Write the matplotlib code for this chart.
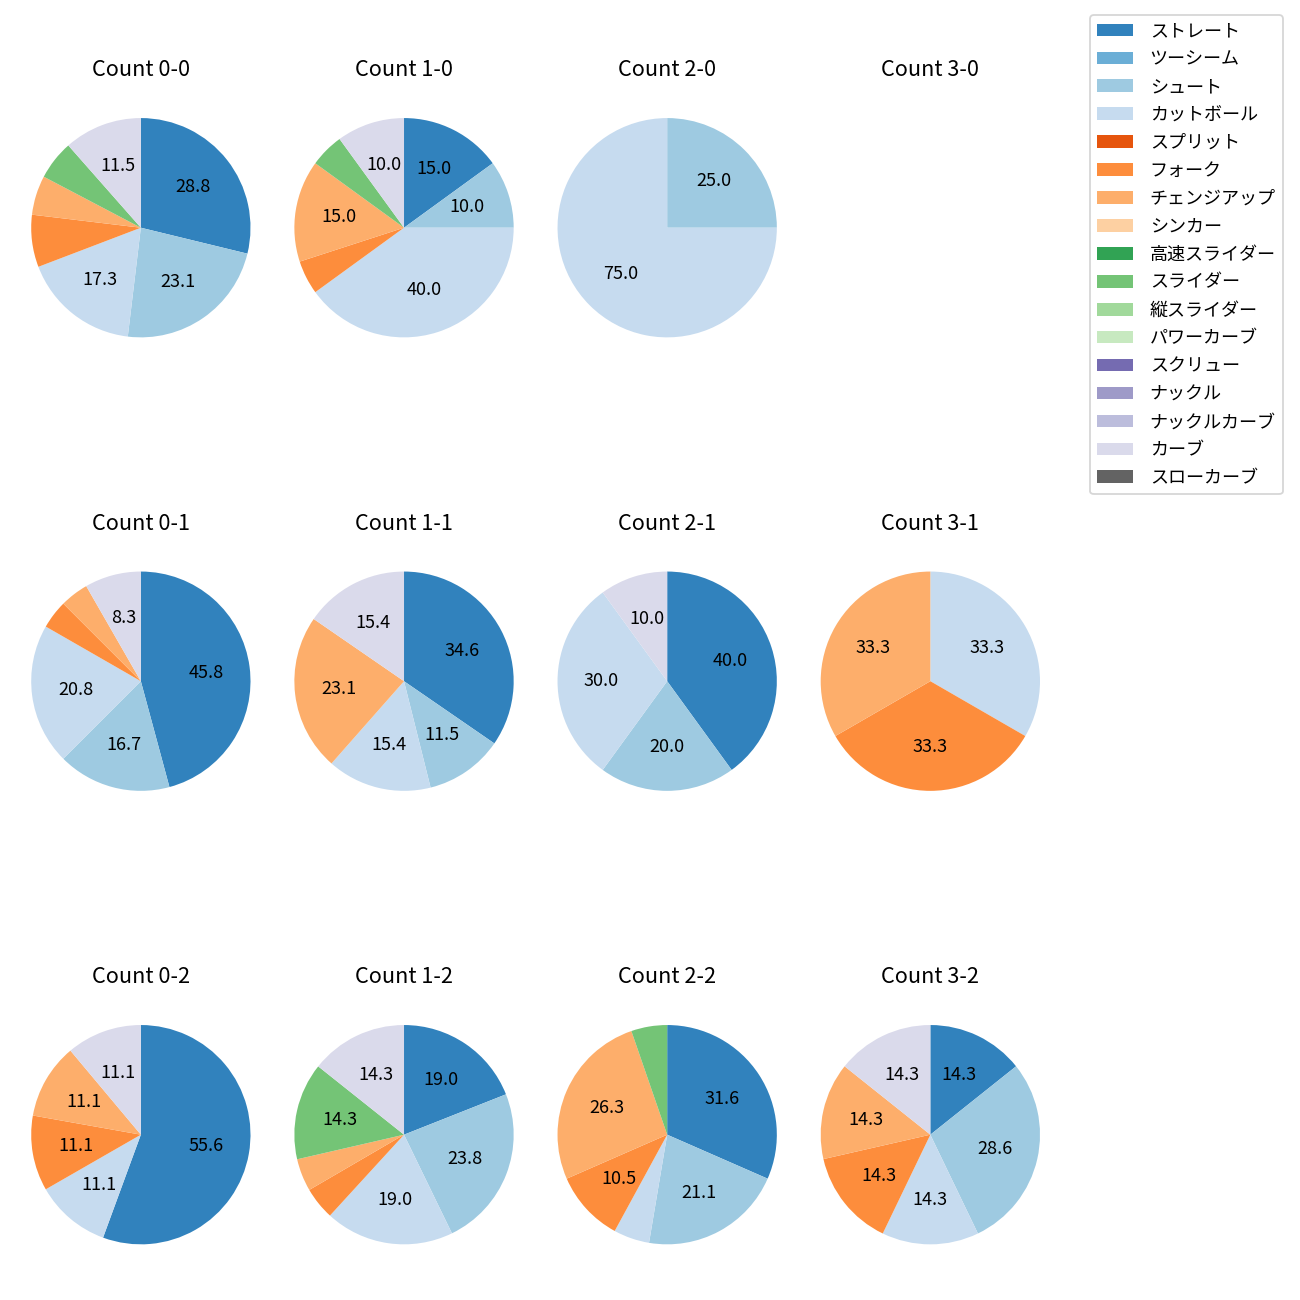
import numpy as np
import matplotlib
matplotlib.use("Agg")
import matplotlib.pyplot as plt
from matplotlib.patches import Patch

plt.rcParams['font.family'] = ['Noto Sans CJK JP', 'DejaVu Sans']

pitch_types = ["ストレート", "ツーシーム", "シュート", "カットボール", "スプリット", "フォーク",
               "チェンジアップ", "シンカー", "高速スライダー", "スライダー", "縦スライダー",
               "パワーカーブ", "スクリュー", "ナックル", "ナックルカーブ", "カーブ", "スローカーブ"]

# share (%) per pitch type, in the order of pitch_types
count_0_0 = [28.8, 0, 23.1, 17.3, 0, 7.7, 5.8, 0, 0, 5.8, 0, 0, 0, 0, 0, 11.5, 0]
count_1_0 = [15.0, 0, 10.0, 40.0, 0, 5.0, 15.0, 0, 0, 5.0, 0, 0, 0, 0, 0, 10.0, 0]
count_2_0 = [0, 0, 25.0, 75.0, 0, 0, 0, 0, 0, 0, 0, 0, 0, 0, 0, 0, 0]
count_3_0 = [0] * 17
count_0_1 = [45.8, 0, 16.7, 20.8, 0, 4.2, 4.2, 0, 0, 0, 0, 0, 0, 0, 0, 8.3, 0]
count_1_1 = [34.6, 0, 11.5, 15.4, 0, 0, 23.1, 0, 0, 0, 0, 0, 0, 0, 0, 15.4, 0]
count_2_1 = [40.0, 0, 20.0, 30.0, 0, 0, 0, 0, 0, 0, 0, 0, 0, 0, 0, 10.0, 0]
count_3_1 = [0, 0, 0, 33.3, 0, 33.3, 33.3, 0, 0, 0, 0, 0, 0, 0, 0, 0, 0]
count_0_2 = [55.6, 0, 0, 11.1, 0, 11.1, 11.1, 0, 0, 0, 0, 0, 0, 0, 0, 11.1, 0]
count_1_2 = [19.0, 0, 23.8, 19.0, 0, 4.8, 4.8, 0, 0, 14.3, 0, 0, 0, 0, 0, 14.3, 0]
count_2_2 = [31.6, 0, 21.1, 5.3, 0, 10.5, 26.3, 0, 0, 5.3, 0, 0, 0, 0, 0, 0, 0]
count_3_2 = [14.3, 0, 28.6, 14.3, 0, 14.3, 14.3, 0, 0, 0, 0, 0, 0, 0, 0, 14.3, 0]

counts = {
    "0-0": count_0_0, "1-0": count_1_0, "2-0": count_2_0, "3-0": count_3_0,
    "0-1": count_0_1, "1-1": count_1_1, "2-1": count_2_1, "3-1": count_3_1,
    "0-2": count_0_2, "1-2": count_1_2, "2-2": count_2_2, "3-2": count_3_2,
}

cmap = plt.get_cmap("tab20c")
colors = [cmap(i) for i in range(16)] + ["#636363"]

fig, axes = plt.subplots(3, 4, figsize=(10, 10))
fig.subplots_adjust(left=0.024, right=0.80, top=0.937, bottom=0.015,
                    wspace=0.2, hspace=0.555)

for ax, (name, vals) in zip(axes.flat, counts.items()):
    vals = np.array(vals, dtype=float)
    ax.set_title(f"Count {name}", fontsize=12, pad=3)
    ax.axis("off")
    if vals.sum() == 0:
        continue
    keep = vals > 0
    ax.pie(vals[keep], colors=[c for c, k in zip(colors, keep) if k],
           startangle=90, counterclock=False,
           autopct=lambda p: f"{p:.1f}" if p >= 8 else "",
           textprops={"fontsize": 10})
    ax.set_aspect("equal", adjustable="datalim")
    ax.set_xlim(-1.0, 1.0)
    ax.set_ylim(-1.0, 1.0)
    for w in ax.patches:
        w.set_clip_on(False)

handles = [Patch(facecolor=c, label=l) for c, l in zip(colors, pitch_types)]
fig.legend(handles=handles, loc="upper right", bbox_to_anchor=(0.9938, 0.9954),
           fontsize=10, labelspacing=0.55, handletextpad=0.9)

fig.savefig("out.png", dpi=130)
